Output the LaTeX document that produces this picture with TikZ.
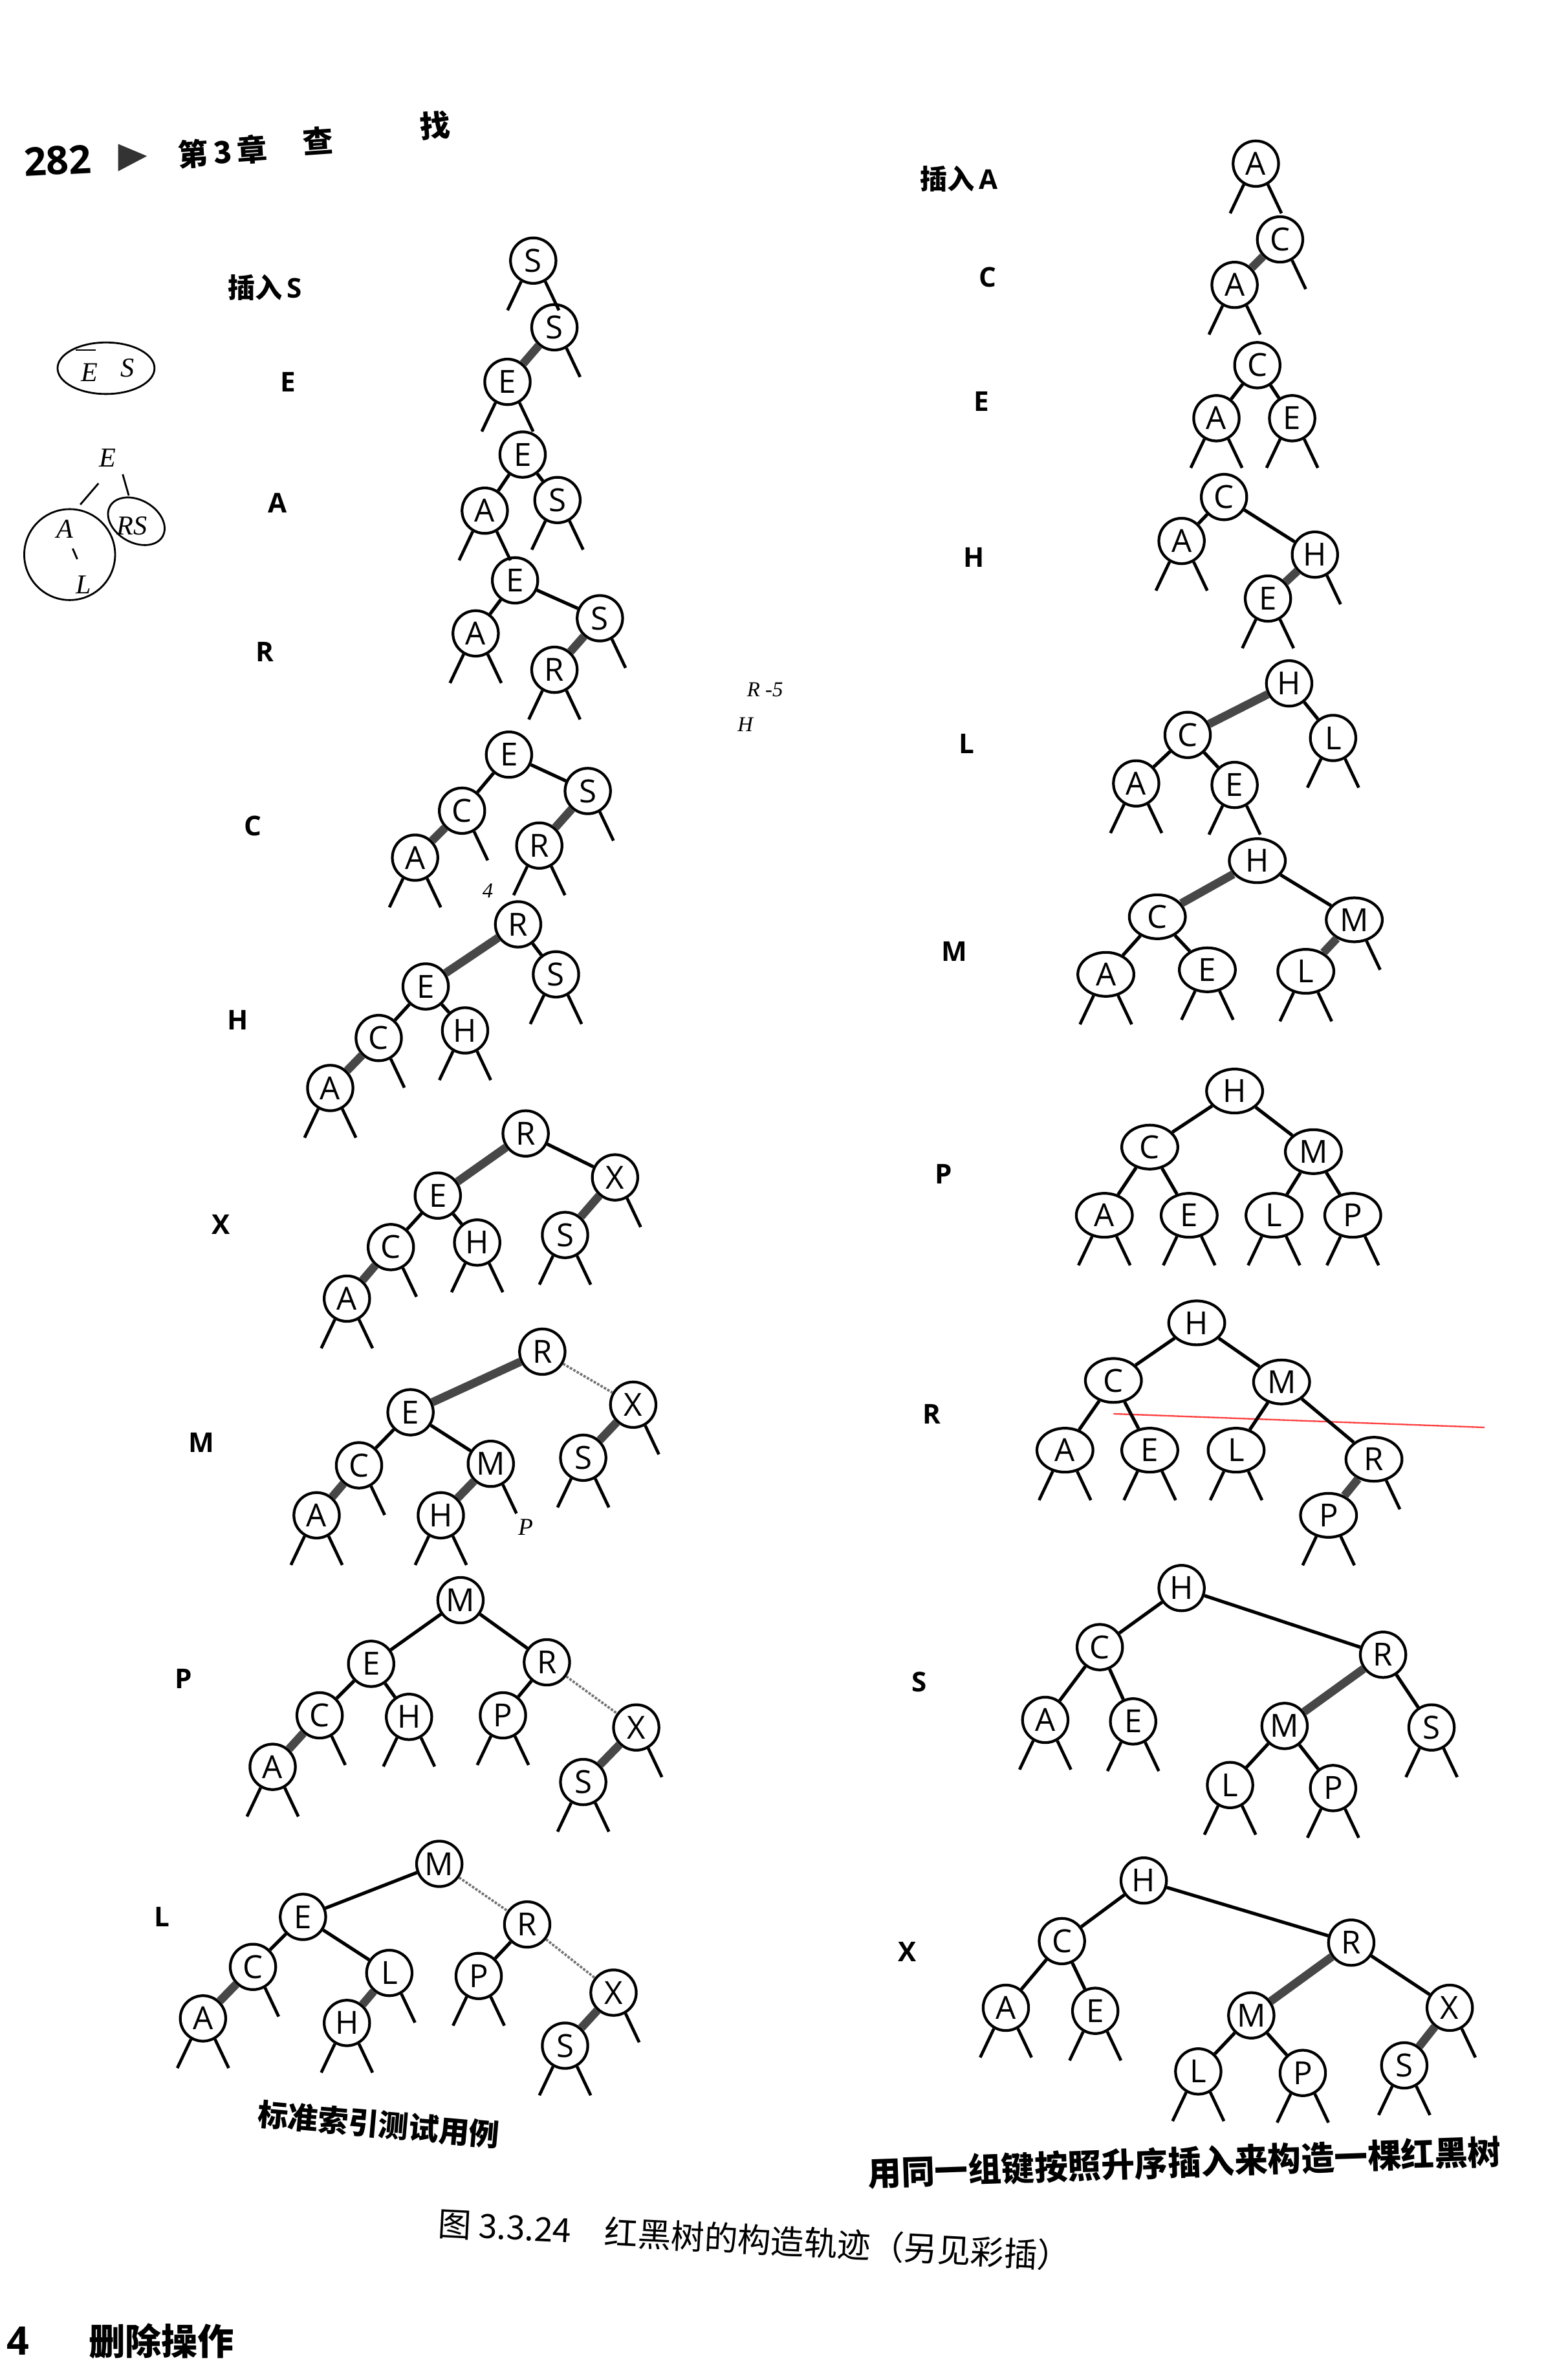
\documentclass[tikz,border=0pt]{standalone}
\usepackage{fontspec}
\setmainfont{Open Sans}
\newfontfamily\cjk{Noto Sans CJK SC}
\newfontfamily\handf{Liberation Serif}
\usetikzlibrary{shapes.geometric}
\tikzset{
 nd/.style={circle,draw,line width=1.8pt,minimum size=30pt,inner sep=0pt,font=\fontsize{21}{21}\selectfont},
 ndw/.style={ellipse,draw,line width=1.8pt,minimum width=37pt,minimum height=29pt,inner sep=0pt,font=\fontsize{21}{21}\selectfont},
 blk/.style={line width=2.2pt},
 redlink/.style={line width=5.5pt,draw=black!72},
 faint/.style={line width=1.6pt,draw=black!55,densely dotted},
 stub/.style={line width=2pt},
 lbl/.style={font=\bfseries\fontsize{18}{18}\selectfont},
 hand/.style={font=\handf\itshape\fontsize{18}{18}\selectfont},
 pen/.style={line width=1.2pt},
}
\newcommand\tNd[4]{\node[nd] (#1) at (#2,#3) {#4};}
\newcommand\tNw[4]{\node[ndw] (#1) at (#2,#3) {#4};}
\newcommand\tBl[2]{\draw[blk] (#1) -- (#2);}
\newcommand\tRl[2]{\draw[redlink] (#1) -- (#2);}
\newcommand\tFl[2]{\draw[faint] (#1) -- (#2);}
\newcommand\tLs[1]{\draw[stub] (#1.240) -- ++(-9,19);}
\newcommand\tRs[1]{\draw[stub] (#1.300) -- ++(9,19);}
\newcommand\tBs[1]{\tLs{#1}\tRs{#1}}
\begin{document}
\begin{tikzpicture}[x=1pt,y=-1pt]
\useasboundingbox[fill=white] (0,0) rectangle (1035,1568);

% ---------- header ----------
\node[font=\bfseries\fontsize{26}{26}\selectfont,rotate=3] (pg) at (38,106) {282};
\fill[black!80] (78,95) -- (78,113) -- (97,103) -- cycle;
\node[font=\cjk\bfseries\fontsize{20}{20}\selectfont,rotate=4] (chap) at (147,100) {第\,3\,章};
\node[font=\cjk\bfseries\fontsize{20}{20}\selectfont,rotate=4] (cha) at (210,93) {查};
\node[font=\cjk\bfseries\fontsize{20}{20}\selectfont,rotate=4] (zhao) at (287,83) {找};

% ---------- handwriting ----------
\draw[pen] (70,243) ellipse [x radius=32, y radius=17];
\node[hand] (hE1) at (59,246) {E};
\draw[pen] (50,231) -- (63,231);
\node[hand] (hS1) at (84,243) {S};
\node[hand] (hE2) at (71,302) {E};
\draw[pen] (81,313) -- (85,327);
\draw[pen] (65,319) -- (53,333);
\draw[pen] (46,366) circle [radius=30];
\draw[pen,rotate around={-30:(90,344)}] (90,344) ellipse [x radius=20, y radius=14];
\node[hand] (hA) at (43,349) {A};
\draw[pen] (48,362) -- (51,369);
\node[hand] (hRS) at (87,347) {RS};
\node[hand] (hL) at (55,386) {L};
\node[hand,font=\handf\itshape\fontsize{14}{14}\selectfont] (hRS2) at (505,455) {R -5};
\node[hand,font=\handf\itshape\fontsize{14}{14}\selectfont] (hH) at (492,478) {H};
\node[hand,font=\handf\itshape\fontsize{14}{14}\selectfont] (h4) at (322,588) {4};
\node[hand,font=\handf\itshape\fontsize{16}{16}\selectfont] (hP) at (347,1008) {P};
\draw[red!75,line width=1pt] (735,933) -- (980,942);

% ---------- left labels ----------
\node[lbl] (la1) at (175,190) {{\cjk 插入}\,S};
\node[lbl] (la2) at (190,252) {E};
\node[lbl] (la3) at (183,332) {A};
\node[lbl] (la4) at (175,430) {R};
\node[lbl] (la5) at (167,545) {C};
\node[lbl] (la6) at (157,673) {H};
\node[lbl] (la7) at (146,808) {X};
\node[lbl] (la8) at (133,952) {M};
\node[lbl] (la9) at (121,1108) {P};
\node[lbl] (la10) at (107,1265) {L};

% ---------- right labels ----------
\node[lbl] (ra1) at (633,118) {{\cjk 插入}\,A};
\node[lbl] (ra2) at (652,183) {C};
\node[lbl] (ra3) at (648,265) {E};
\node[lbl] (ra4) at (643,368) {H};
\node[lbl] (ra5) at (638,491) {L};
\node[lbl] (ra6) at (630,628) {M};
\node[lbl] (ra7) at (623,775) {P};
\node[lbl] (ra8) at (615,933) {R};
\node[lbl] (ra9) at (607,1110) {S};
\node[lbl] (ra10) at (599,1288) {X};

% ---------- left trees ----------
% 1
\tNd{aS}{352}{172}{S} \tBs{aS}
% 2
\tNd{bS}{366}{216}{S} \tNd{bE}{335}{252}{E}
\tRl{bS}{bE} \tRs{bS} \tBs{bE}
% 3
\tNd{cE}{345}{300}{E} \tNd{cA}{320}{337}{A} \tNd{cS}{368}{330}{S}
\tBl{cE}{cA} \tBl{cE}{cS} \tBs{cA} \tBs{cS}
% 4
\tNd{dE}{340}{383}{E} \tNd{dA}{314}{418}{A} \tNd{dS}{396}{408}{S} \tNd{dR}{366}{442}{R}
\tBl{dE}{dA} \tBl{dE}{dS} \tRl{dS}{dR}
\tBs{dA} \tRs{dS} \tBs{dR}
% 5
\tNd{eE}{336}{498}{E} \tNd{eC}{305}{535}{C} \tNd{eS}{388}{522}{S} \tNd{eA}{274}{566}{A} \tNd{eR}{356}{558}{R}
\tBl{eE}{eC} \tBl{eE}{eS} \tRl{eC}{eA} \tRl{eS}{eR}
\tRs{eC} \tRs{eS} \tBs{eA} \tBs{eR}
% 6
\tNd{fR}{342}{610}{R} \tNd{fE}{281}{651}{E} \tNd{fS}{367}{643}{S} \tNd{fC}{250}{685}{C} \tNd{fH}{307}{680}{H} \tNd{fA}{218}{718}{A}
\tRl{fR}{fE} \tBl{fR}{fS} \tBl{fE}{fC} \tBl{fE}{fH} \tRl{fC}{fA}
\tBs{fS} \tBs{fH} \tRs{fC} \tBs{fA}
% 7
\tNd{gR}{347}{748}{R} \tNd{gE}{289}{789}{E} \tNd{gX}{406}{777}{X} \tNd{gC}{258}{823}{C} \tNd{gH}{315}{820}{H} \tNd{gS}{373}{815}{S} \tNd{gA}{229}{857}{A}
\tRl{gR}{gE} \tBl{gR}{gX} \tRl{gX}{gS} \tBl{gE}{gC} \tBl{gE}{gH} \tRl{gC}{gA}
\tRs{gX} \tRs{gC} \tBs{gH} \tBs{gS} \tBs{gA}
% 8
\tNd{hR}{358}{892}{R} \tNd{hE}{271}{932}{E} \tNd{hX}{418}{927}{X} \tNd{hC}{237}{967}{C} \tNd{hM}{324}{966}{M} \tNd{hS}{385}{962}{S} \tNd{hA}{209}{1000}{A} \tNd{hH}{291}{1000}{H}
\tRl{hR}{hE} \tFl{hR}{hX} \tBl{hE}{hC} \tBl{hE}{hM} \tRl{hM}{hH} \tRl{hX}{hS} \tRl{hC}{hA}
\tRs{hX} \tRs{hC} \tRs{hM} \tBs{hS} \tBs{hA} \tBs{hH}
% 9
\tNd{iM}{304}{1056}{M} \tNd{iE}{245}{1098}{E} \tNd{iR}{361}{1097}{R} \tNd{iC}{211}{1132}{C} \tNd{iH}{270}{1133}{H} \tNd{iP}{332}{1132}{P} \tNd{iX}{420}{1140}{X} \tNd{iA}{180}{1166}{A} \tNd{iS}{385}{1176}{S}
\tBl{iM}{iE} \tBl{iM}{iR} \tBl{iE}{iC} \tBl{iE}{iH} \tBl{iR}{iP} \tFl{iR}{iX} \tRl{iX}{iS} \tRl{iC}{iA}
\tRs{iC} \tBs{iH} \tBs{iP} \tRs{iX} \tBs{iA} \tBs{iS}
% 10
\tNd{jM}{290}{1230}{M} \tNd{jE}{200}{1265}{E} \tNd{jR}{348}{1270}{R} \tNd{jC}{167}{1298}{C} \tNd{jL}{257}{1302}{L} \tNd{jP}{316}{1304}{P} \tNd{jX}{405}{1315}{X} \tNd{jA}{134}{1332}{A} \tNd{jH}{229}{1335}{H} \tNd{jS}{373}{1350}{S}
\tBl{jM}{jE} \tFl{jM}{jR} \tBl{jE}{jC} \tBl{jE}{jL} \tBl{jR}{jP} \tFl{jR}{jX} \tRl{jX}{jS} \tRl{jC}{jA} \tRl{jL}{jH}
\tRs{jC} \tRs{jL} \tBs{jP} \tRs{jX} \tBs{jA} \tBs{jH} \tBs{jS}

% ---------- right trees ----------
% 1
\tNd{kA}{829}{108}{A} \tBs{kA}
% 2
\tNd{mC}{845}{158}{C} \tNd{mA}{815}{188}{A}
\tRl{mC}{mA} \tRs{mC} \tBs{mA}
% 3
\tNd{nC}{830}{241}{C} \tNd{nA}{803}{276}{A} \tNd{nE}{853}{276}{E}
\tBl{nC}{nA} \tBl{nC}{nE} \tBs{nA} \tBs{nE}
% 4
\tNd{oC}{808}{328}{C} \tNd{oA}{780}{357}{A} \tNd{oH}{868}{366}{H} \tNd{oE}{837}{395}{E}
\tBl{oC}{oA} \tBl{oC}{oH} \tRl{oH}{oE}
\tBs{oA} \tRs{oH} \tBs{oE}
% 5
\tNd{pH}{851}{451}{H} \tNd{pC}{784}{485}{C} \tNd{pL}{880}{487}{L} \tNd{pA}{750}{517}{A} \tNd{pE}{815}{518}{E}
\tRl{pH}{pC} \tBl{pH}{pL} \tBl{pC}{pA} \tBl{pC}{pE}
\tBs{pL} \tBs{pA} \tBs{pE}
% 6
\tNw{qH}{830}{568}{H} \tNw{qC}{764}{605}{C} \tNw{qM}{894}{607}{M} \tNw{qA}{730}{643}{A} \tNw{qE}{797}{640}{E} \tNw{qL}{862}{641}{L}
\tRl{qH}{qC} \tBl{qH}{qM} \tBl{qC}{qA} \tBl{qC}{qE} \tRl{qM}{qL}
\tRs{qM} \tBs{qA} \tBs{qE} \tBs{qL}
% 7
\tNw{sH}{815}{720}{H} \tNw{sC}{759}{757}{C} \tNw{sM}{867}{760}{M} \tNw{sA}{729}{802}{A} \tNw{sE}{785}{802}{E} \tNw{sL}{841}{802}{L} \tNw{sP}{893}{802}{P}
\tBl{sH}{sC} \tBl{sH}{sM} \tBl{sC}{sA} \tBl{sC}{sE} \tBl{sM}{sL} \tBl{sM}{sP}
\tBs{sA} \tBs{sE} \tBs{sL} \tBs{sP}
% 8
\tNw{tH}{790}{873}{H} \tNw{tC}{735}{911}{C} \tNw{tM}{846}{912}{M} \tNw{tA}{703}{957}{A} \tNw{tE}{759}{957}{E} \tNw{tL}{816}{957}{L} \tNw{tR}{907}{963}{R} \tNw{tP}{877}{1000}{P}
\tBl{tH}{tC} \tBl{tH}{tM} \tBl{tC}{tA} \tBl{tC}{tE} \tBl{tM}{tL} \tBl{tM}{tR} \tRl{tR}{tP}
\tBs{tA} \tBs{tE} \tBs{tL} \tRs{tR} \tBs{tP}
% 9
\tNd{uH}{780}{1048}{H} \tNd{uC}{726}{1087}{C} \tNd{uR}{913}{1092}{R} \tNd{uA}{690}{1135}{A} \tNd{uE}{748}{1136}{E} \tNd{uM}{848}{1139}{M} \tNd{uS}{945}{1140}{S} \tNd{uL}{812}{1178}{L} \tNd{uP}{880}{1180}{P}
\tBl{uH}{uC} \tBl{uH}{uR} \tBl{uC}{uA} \tBl{uC}{uE} \tRl{uR}{uM} \tBl{uR}{uS} \tBl{uM}{uL} \tBl{uM}{uP}
\tBs{uA} \tBs{uE} \tBs{uS} \tBs{uL} \tBs{uP}
% 10
\tNd{vH}{755}{1241}{H} \tNd{vC}{701}{1281}{C} \tNd{vR}{892}{1282}{R} \tNd{vA}{664}{1325}{A} \tNd{vE}{723}{1327}{E} \tNd{vM}{826}{1330}{M} \tNd{vX}{957}{1325}{X} \tNd{vL}{791}{1367}{L} \tNd{vP}{860}{1368}{P} \tNd{vS}{927}{1363}{S}
\tBl{vH}{vC} \tBl{vH}{vR} \tBl{vC}{vA} \tBl{vC}{vE} \tRl{vR}{vM} \tBl{vR}{vX} \tBl{vM}{vL} \tBl{vM}{vP} \tRl{vX}{vS}
\tBs{vA} \tBs{vE} \tBs{vL} \tBs{vP} \tBs{vS} \tRs{vX}

% ---------- captions ----------
\node[font=\cjk\bfseries\fontsize{20}{20}\selectfont,rotate=-5] (cap1) at (250,1402) {标准索引测试用例};
\node[font=\cjk\bfseries\fontsize{22}{22}\selectfont,rotate=2] (cap2) at (782,1427) {用同一组键按照升序插入来构造一棵红黑树};
\node[font=\cjk\fontsize{22}{22}\selectfont,rotate=-3] (cap3) at (498,1478) {图 3.3.24\quad 红黑树的构造轨迹（另见彩插）};
\node[font=\bfseries\fontsize{26}{26}\selectfont,anchor=west] (sec) at (1,1545) {4};
\node[font=\cjk\bfseries\fontsize{24}{24}\selectfont,anchor=west] (secT) at (55,1545) {删除操作};
\end{tikzpicture}
\end{document}
